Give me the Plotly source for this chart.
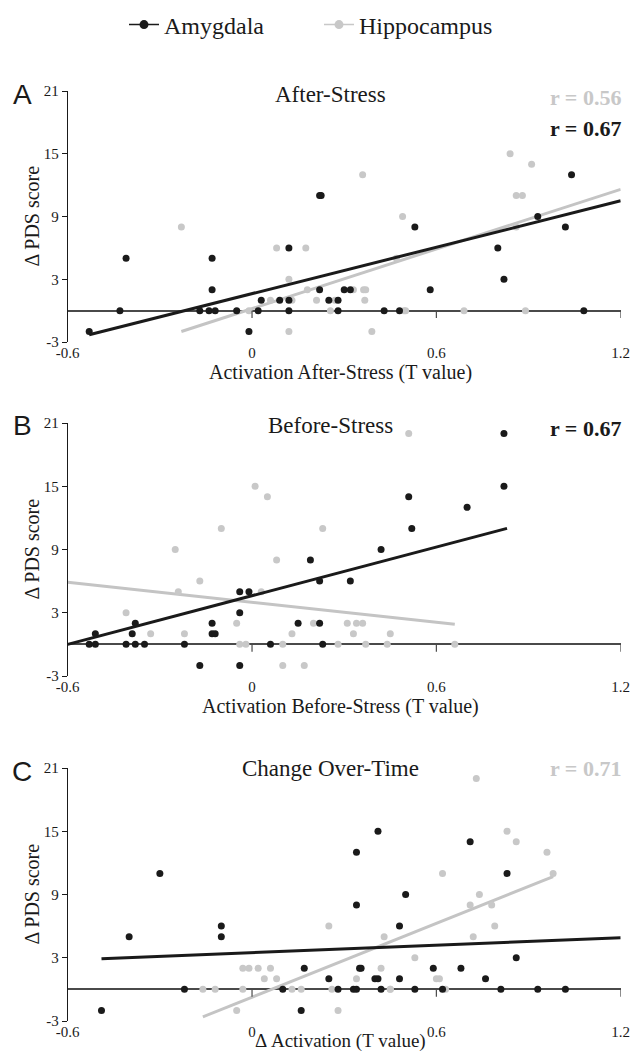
import plotly.graph_objects as go
from plotly.subplots import make_subplots

# ---------------- data ----------------
x_ticks = [-0.6, 0, 0.6, 1.2]
y_ticks = [-3, 3, 9, 15, 21]
series_names = ["Amygdala", "Hippocampus"]
panel_letters = ["A", "B", "C"]
panel_titles = ["After-Stress", "Before-Stress", "Change Over-Time"]
x_titles = ["Activation After-Stress (T value)", "Activation Before-Stress (T value)", "Δ Activation (T value)"]
y_title = "Δ PDS score"

# Panel A: After-Stress
a_amy_x = [-0.53, -0.43, -0.41, -0.17, -0.14, -0.12, -0.13, -0.13, -0.05, -0.01, 0.02, 0.03, 0.09, 0.12, 0.12, 0.12,
           0.22, 0.225, 0.22, 0.25, 0.28, 0.28, 0.30, 0.32, 0.43, 0.48, 0.53, 0.58, 0.80, 0.82, 0.93, 1.02, 1.04, 1.08]
a_amy_y = [-2, 0, 5, 0, 0, 0, 5, 2, 0, -2, 0, 1, 1, 0, 1, 6,
           11, 11, 2, 1, 1, 0, 2, 2, 0, 0, 8, 2, 6, 3, 9, 8, 13, 0]
a_hip_x = [-0.23, -0.01, 0.06, 0.08, 0.12, 0.12, 0.13, 0.175, 0.18, 0.21, 0.255, 0.27, 0.33, 0.36, 0.363, 0.37,
           0.367, 0.39, 0.47, 0.49, 0.495, 0.50, 0.69, 0.84, 0.86, 0.88, 0.89, 0.91, 0.86]
a_hip_y = [8, 0, 1, 6, 3, -2, 1, 6, 2, 1, 0, 1, 2, 13, 2, 2,
           1, -2, 5, 9, 0, 0, 0, 15, 11, 11, 0, 14, 8]
a_amy_fit_x = [-0.53, 1.2]
a_amy_fit_y = [-2.3, 10.5]
a_hip_fit_x = [-0.23, 1.2]
a_hip_fit_y = [-2.0, 11.6]
a_r_hip = "r = 0.56"
a_r_amy = "r = 0.67"

# Panel B: Before-Stress
b_amy_x = [-0.53, -0.51, -0.51, -0.41, -0.38, -0.39, -0.38, -0.35, -0.22, -0.17, -0.13, -0.13, -0.12, -0.04, -0.04,
           -0.04, -0.01, 0.06, 0.15, 0.19, 0.22, 0.22, 0.23, 0.32, 0.42, 0.51, 0.52, 0.70, 0.82, 0.82]
b_amy_y = [0, 0, 1, 0, 0, 1, 2, 0, 0, -2, 2, 1, 1, -2, 3,
           5, 5, 0, 2, 8, 6, 2, 0, 6, 9, 14, 11, 13, 20, 15]
b_hip_x = [-0.41, -0.33, -0.25, -0.24, -0.22, -0.17, -0.10, -0.05, -0.04, -0.02, 0.01, 0.03, 0.05, 0.08, 0.10,
           0.10, 0.13, 0.17, 0.20, 0.23, 0.28, 0.31, 0.33, 0.34, 0.36, 0.37, 0.44, 0.45, 0.51, 0.66]
b_hip_y = [3, 1, 9, 5, 1, 6, 11, 2, 0, 0, 15, 5, 14, 8, 0,
           -2, 1, -2, 2, 11, 0, 2, 1, 2, 2, 0, 0, 1, 20, 0]
b_amy_fit_x = [-0.6, 0.83]
b_amy_fit_y = [0.0, 11.0]
b_hip_fit_x = [-0.6, 0.66]
b_hip_fit_y = [5.9, 1.9]
b_r_amy = "r = 0.67"

# Panel C: Change Over-Time
c_amy_x = [-0.49, -0.40, -0.30, -0.22, -0.10, -0.10, 0.10, 0.16, 0.17, 0.25, 0.28, 0.33, 0.34, 0.34, 0.34, 0.35,
           0.355, 0.40, 0.41, 0.41, 0.42, 0.48, 0.48, 0.50, 0.53, 0.59, 0.62, 0.68, 0.71, 0.76, 0.81, 0.83, 0.86,
           0.93, 1.02]
c_amy_y = [-2, 5, 11, 0, 6, 5, 0, -2, 2, 1, 0, 0, 0, 13, 8, 2,
           2, 1, 1, 15, 0, 1, 6, 9, 0, 2, 0, 2, 14, 1, 0, 11, 3,
           0, 0]
c_hip_x = [-0.16, -0.12, -0.05, -0.03, -0.03, -0.01, 0.02, 0.04, 0.06, 0.08, 0.13, 0.16, 0.25, 0.26, 0.28, 0.34,
           0.42, 0.43, 0.45, 0.45, 0.53, 0.60, 0.61, 0.62, 0.63, 0.71, 0.72, 0.73, 0.74, 0.78, 0.79, 0.83, 0.86,
           0.96, 0.98]
c_hip_y = [0, 0, -2, 0, 2, 2, 2, 1, 2, 1, 0, 0, 6, 0, -2, 1,
           2, 5, 0, 0, 3, 1, 1, 11, 0, 8, 5, 20, 9, 8, 6, 15, 14,
           13, 11]
c_amy_fit_x = [-0.49, 1.2]
c_amy_fit_y = [2.9, 4.9]
c_hip_fit_x = [-0.16, 0.98]
c_hip_fit_y = [-2.6, 10.7]
c_r_hip = "r = 0.71"

# ---------------- styling ----------------
W, H = 633, 1053
BLACK = "#1a1a1a"
GRAY = "#c8c8c8"
GRAY_LINE = "#c4c4c4"
SERIF = "Liberation Serif, Times New Roman, serif"
SANS = "Liberation Sans, Arial, sans-serif"

def px_x(p):
    return p / W

def px_y(p):
    return 1 - p / H

plot_left, plot_right = 67.7, 620.7
panel_tops = [91, 423, 768]
panel_bottoms = [342, 676, 1021]

fig = make_subplots(rows=3, cols=1)

panels = [
    (a_amy_x, a_amy_y, a_hip_x, a_hip_y, a_amy_fit_x, a_amy_fit_y, a_hip_fit_x, a_hip_fit_y),
    (b_amy_x, b_amy_y, b_hip_x, b_hip_y, b_amy_fit_x, b_amy_fit_y, b_hip_fit_x, b_hip_fit_y),
    (c_amy_x, c_amy_y, c_hip_x, c_hip_y, c_amy_fit_x, c_amy_fit_y, c_hip_fit_x, c_hip_fit_y),
]

for i, (ax, ay, hx, hy, afx, afy, hfx, hfy) in enumerate(panels):
    row = i + 1
    fig.add_trace(go.Scatter(x=hfx, y=hfy, mode="lines", line=dict(color=GRAY_LINE, width=3),
                             showlegend=False, hoverinfo="skip", cliponaxis=False), row=row, col=1)
    fig.add_trace(go.Scatter(x=hx, y=hy, mode="markers", name=series_names[1],
                             marker=dict(color=GRAY, size=7), showlegend=False, cliponaxis=False), row=row, col=1)
    fig.add_trace(go.Scatter(x=afx, y=afy, mode="lines", line=dict(color=BLACK, width=3),
                             showlegend=False, hoverinfo="skip", cliponaxis=False), row=row, col=1)
    fig.add_trace(go.Scatter(x=ax, y=ay, mode="markers", name=series_names[0],
                             marker=dict(color=BLACK, size=7), showlegend=False, cliponaxis=False), row=row, col=1)

# legend-only entries
fig.add_trace(go.Scatter(x=[None], y=[None], mode="lines+markers", name=series_names[0],
                         line=dict(color=BLACK, width=1.5), marker=dict(color=BLACK, size=9)), row=1, col=1)
fig.add_trace(go.Scatter(x=[None], y=[None], mode="lines+markers", name=series_names[1],
                         line=dict(color=GRAY, width=1.5), marker=dict(color=GRAY, size=9)), row=1, col=1)

for i in range(3):
    row = i + 1
    fig.update_xaxes(row=row, col=1, range=[-0.6, 1.2], tickvals=x_ticks,
                     ticktext=[f"{v:g}" for v in x_ticks], showline=False, zeroline=False,
                     showgrid=False, ticks="", tickfont=dict(family=SERIF, size=15, color=BLACK),
                     domain=[px_x(plot_left), px_x(plot_right)], fixedrange=True, automargin=False)
    fig.update_yaxes(row=row, col=1, range=[-3, 21], tickvals=y_ticks,
                     ticktext=[f"{v:g}" for v in y_ticks], showline=True, linecolor=BLACK, linewidth=1,
                     ticks="outside", ticklen=5, tickcolor=BLACK, tickwidth=1,
                     zeroline=True, zerolinecolor="#4a4a4a", zerolinewidth=1.5, showgrid=False,
                     tickfont=dict(family=SERIF, size=15, color=BLACK),
                     domain=[px_y(panel_bottoms[i]), px_y(panel_tops[i])], fixedrange=True, automargin=False)
    xr = "x" if i == 0 else f"x{row}"
    yr = "y" if i == 0 else f"y{row}"
    for t in x_ticks[1:]:
        fig.add_shape(type="line", xref=xr, yref=yr, x0=t, x1=t, y0=0, y1=-0.7,
                      line=dict(color="#4a4a4a", width=1.2))

annotations = []
title_y = [94, 426, 768]
xtitle_y = [373, 706, 1041]
xtitle_size = [20, 20, 19]
for i in range(3):
    top, bot = panel_tops[i], panel_bottoms[i]
    annotations.append(dict(text=panel_letters[i], x=px_x(22), y=px_y(top + 3), xref="paper", yref="paper",
                            showarrow=False, font=dict(family=SANS, size=28, color=BLACK),
                            xanchor="center", yanchor="middle"))
    annotations.append(dict(text=panel_titles[i], x=px_x(330), y=px_y(title_y[i]), xref="paper", yref="paper",
                            showarrow=False, font=dict(family=SERIF, size=23, color=BLACK),
                            xanchor="center", yanchor="middle"))
    annotations.append(dict(text=x_titles[i], x=px_x(340), y=px_y(xtitle_y[i]), xref="paper", yref="paper",
                            showarrow=False, font=dict(family=SERIF, size=xtitle_size[i], color=BLACK),
                            xanchor="center", yanchor="middle"))
    annotations.append(dict(text=y_title, x=px_x(31), y=px_y((top + bot) / 2), xref="paper", yref="paper",
                            showarrow=False, textangle=-90, font=dict(family=SERIF, size=20, color=BLACK),
                            xanchor="center", yanchor="middle"))

r_labels = [
    (a_r_hip, GRAY, 98),
    (a_r_amy, BLACK, 128),
    (b_r_amy, BLACK, 428),
    (c_r_hip, GRAY, 768),
]
for txt, col, yy in r_labels:
    annotations.append(dict(text=f"<b>{txt}</b>", x=px_x(623), y=px_y(yy), xref="paper", yref="paper",
                            showarrow=False, font=dict(family=SERIF, size=22, color=col),
                            xanchor="right", yanchor="middle"))

fig.update_layout(
    width=W, height=H,
    margin=dict(l=0, r=0, t=0, b=0, autoexpand=False),
    paper_bgcolor="white", plot_bgcolor="white",
    annotations=annotations,
    legend=dict(orientation="h", x=px_x(124), xanchor="left", y=px_y(25), yanchor="middle",
                font=dict(family=SERIF, size=24, color=BLACK), bgcolor="rgba(0,0,0,0)",
                itemwidth=30, tracegroupgap=0, entrywidth=150, entrywidthmode="pixels"),
    showlegend=True,
)

fig.write_html("out.html", config={"displayModeBar": False},
               post_script="document.body.style.margin='0';")
